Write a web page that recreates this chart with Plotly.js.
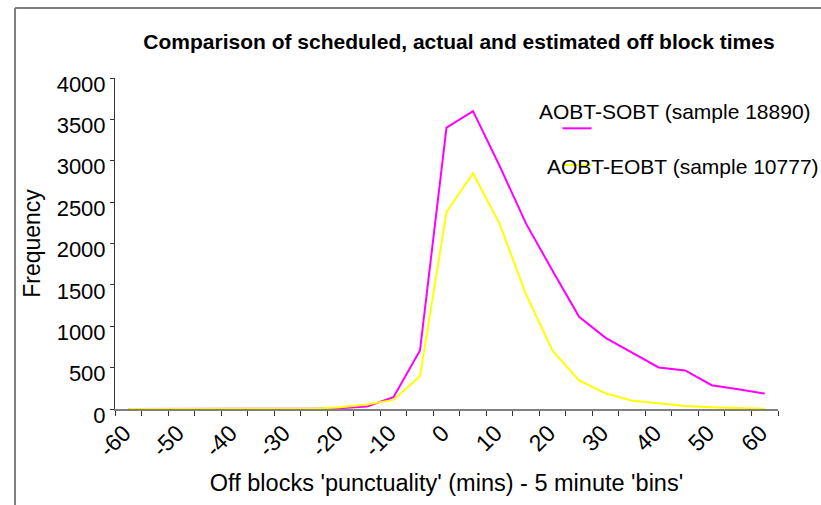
<!DOCTYPE html>
<html>
<head>
<meta charset="utf-8">
<script src="https://cdn.plot.ly/plotly-3.0.1.min.js"></script>
<style>
  html, body { margin: 0; padding: 0; background: #fff; }
  #chart { width: 821px; height: 505px; }
</style>
</head>
<body>
<div id="chart"></div>
<script>
// ---- data ----
const bins = [-60, -55, -50, -45, -40, -35, -30, -25, -20, -15, -10, -5, 0, 5, 10, 15, 20, 25, 30, 35, 40, 45, 50, 55, 60];
const sobtValues = [0, 0, 0, 0, 0, 0, 0, 4, 10, 30, 142, 707, 3400, 3600, 2940, 2240, 1670, 1115, 860, 677, 502, 466, 288, 239, 186];
const eobtValues = [0, 0, 0, 0, 0, 0, 0, 4, 20, 55, 110, 395, 2380, 2850, 2240, 1385, 705, 345, 190, 100, 70, 35, 20, 8, 2];
const seriesNames = ["AOBT-SOBT (sample 18890)", "AOBT-EOBT (sample 10777)"];
const seriesColors = ["#ff00ff", "#ffff00"];
const labelTicks = [-60, -50, -40, -30, -20, -10, 0, 10, 20, 30, 40, 50, 60];
const yTicks = [0, 500, 1000, 1500, 2000, 2500, 3000, 3500, 4000];

const FONT = "Liberation Sans, Arial, sans-serif";
const binWidth = 5;
const edgeTicks = bins.map(b => b - binWidth / 2).concat([bins[bins.length - 1] + binWidth / 2]);

const traces = [
  { x: bins, y: sobtValues, name: seriesNames[0], type: "scatter", mode: "lines",
    line: { color: seriesColors[0], width: 2 }, showlegend: false, hoverinfo: "x+y" },
  { x: bins, y: eobtValues, name: seriesNames[1], type: "scatter", mode: "lines",
    line: { color: seriesColors[1], width: 2 }, showlegend: false, hoverinfo: "x+y" }
];

const layout = {
  width: 821, height: 505,
  margin: { l: 115, r: 43, t: 78, b: 96 },
  paper_bgcolor: "#ffffff", plot_bgcolor: "#ffffff",
  font: { family: FONT, color: "#000" },
  title: {
    text: "<b>Comparison of scheduled, actual and estimated off block times</b>",
    font: { family: FONT, size: 21, color: "#000" },
    x: 459 / 821, xanchor: "center", xref: "container",
    y: 1 - 42 / 505, yanchor: "middle", yref: "container"
  },
  xaxis: {
    range: [edgeTicks[0], edgeTicks[edgeTicks.length - 1]],
    tickmode: "array", tickvals: labelTicks, ticktext: labelTicks.map(String),
    ticks: "", tickangle: -45,
    tickfont: { family: FONT, size: 23, color: "#000" },
    ticklabelshift: -4,
    showgrid: false, zeroline: false,
    showline: true, linecolor: "#808080", linewidth: 1.5,
    minor: { tickmode: "array", tickvals: edgeTicks, ticks: "outside", ticklen: 5, tickcolor: "#333", tickwidth: 1, showgrid: false },
    title: { text: "Off blocks 'punctuality' (mins) - 5 minute 'bins'", font: { family: FONT, size: 23.5, color: "#000" }, standoff: 14 },
    fixedrange: true
  },
  yaxis: {
    range: [0, 4000],
    tickmode: "array", tickvals: yTicks, ticktext: yTicks.map(String),
    ticks: "outside", ticklen: 4, tickcolor: "#333",
    tickfont: { family: FONT, size: 22, color: "#000" },
    ticklabelshift: 6,
    showgrid: false, zeroline: false,
    showline: true, linecolor: "#333", linewidth: 1,
    title: { text: "Frequency", font: { family: FONT, size: 23, color: "#000" }, standoff: 9 },
    fixedrange: true
  },
  shapes: [
    { type: "line", xref: "paper", yref: "paper", x0: -0.1508, x1: -0.1508, y0: -0.5, y1: 1.2115,
      line: { color: "#7f7f7f", width: 2 } },
    { type: "line", xref: "paper", yref: "paper", x0: -0.1508, x1: 1.2, y0: 1.2115, y1: 1.2115,
      line: { color: "#7f7f7f", width: 2 } },
    { type: "line", xref: "paper", yref: "paper", x0: 0.675, x1: 0.7187, y0: 0.848, y1: 0.848,
      line: { color: seriesColors[0], width: 2 } },
    { type: "line", xref: "paper", yref: "paper", x0: 0.675, x1: 0.7187, y0: 0.737, y1: 0.737,
      line: { color: seriesColors[1], width: 2 } }
  ],
  annotations: [
    { text: seriesNames[0], xref: "paper", yref: "paper", x: 0.636, y: 0.898,
      xanchor: "left", yanchor: "middle", showarrow: false,
      font: { family: FONT, size: 21, color: "#000" } },
    { text: seriesNames[1], xref: "paper", yref: "paper", x: 0.648, y: 0.732,
      xanchor: "left", yanchor: "middle", showarrow: false,
      font: { family: FONT, size: 21, color: "#000" } }
  ]
};

Plotly.newPlot("chart", traces, layout, { displayModeBar: false, staticPlot: true });
</script>
</body>
</html>
